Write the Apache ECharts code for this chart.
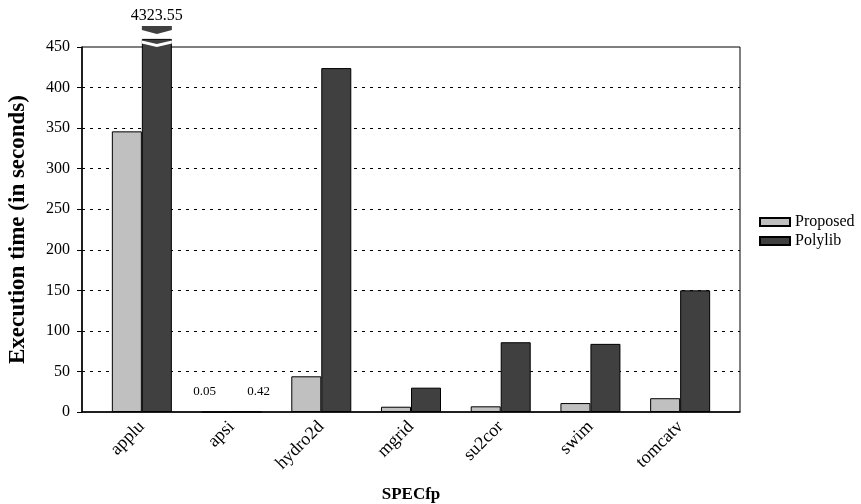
<!DOCTYPE html>
<html><head><meta charset="utf-8">
<script src="https://cdn.jsdelivr.net/npm/echarts@6/dist/echarts.min.js"></script>
<style>html,body{margin:0;padding:0;background:#fff}#c{width:861px;height:504px}</style>
</head><body><div id="c"></div>
<script>
const categories = ['applu','apsi','hydro2d','mgrid','su2cor','swim','tomcatv'];
const proposed = [346, 0.05, 44, 6.5, 7, 11, 17];
const polylib = [4323.55, 0.42, 424, 30, 86, 84, 150];
const yTicks = [0,50,100,150,200,250,300,350,400,450];
const yMax = 450;
const breakTop = 460; // visual height of a broken bar

const F = 'Liberation Serif, Times New Roman, serif';
const chart = echarts.init(document.getElementById('c'));

function mkData(arr, side) {
  return arr.map((v, i) => {
    const item = { value: v > yMax ? breakTop : v };
    if (v > yMax) {
      item.label = { show: true, position: 'top', distance: 15, formatter: String(v), fontSize: 16 };
    } else if (v < 1) {
      item.label = { show: true, position: 'top', distance: 13, formatter: String(v), fontSize: 13, offset: [side * 12, 0] };
    }
    return item;
  });
}

chart.setOption({
  animation: false,
  textStyle: { fontFamily: F, color: '#000' },
  grid: [
    { left: 82, width: 658, top: 47, height: 365, show: true, borderColor: '#000', borderWidth: 1,
      backgroundColor: 'transparent', containLabel: false, outerBoundsMode: 'none' },
    { left: 97, width: 628, top: 47, height: 365, containLabel: false, outerBoundsMode: 'none' }
  ],
  legend: {
    orient: 'vertical', left: 754, top: 209, itemWidth: 30, itemHeight: 8, itemGap: 3,
    icon: 'rect', textStyle: { fontFamily: F, fontSize: 16, color: '#000' },
    data: ['Proposed', 'Polylib']
  },
  xAxis: [
    { type: 'value', gridIndex: 0, min: 0, max: 1, show: true,
      axisLine: { show: true, lineStyle: { color: '#000', width: 1.5 } },
      axisTick: { show: false }, axisLabel: { show: false }, splitLine: { show: false } },
    { type: 'category', gridIndex: 1, data: categories,
      axisLine: { show: false }, axisTick: { show: false },
      axisLabel: { rotate: 45, fontFamily: F, fontSize: 18, color: '#000', margin: 12 },
      name: 'SPECfp', nameLocation: 'middle', nameGap: 74,
      nameTextStyle: { fontFamily: F, fontSize: 17, fontWeight: 'bold', color: '#000' } }
  ],
  yAxis: [
    { type: 'value', gridIndex: 0, min: 0, max: yMax, interval: 50,
      axisLine: { show: true, lineStyle: { color: '#000', width: 1.5 } },
      axisTick: { show: true, inside: false, length: 5, lineStyle: { color: '#000' } },
      axisLabel: { fontFamily: F, fontSize: 16, color: '#000', margin: 12,
        formatter: v => yTicks.includes(v) ? String(v) : '' },
      splitLine: { show: true, showMinLine: false, showMaxLine: false,
        lineStyle: { color: '#000', type: [3, 5], width: 1 } },
      name: 'Execution time (in seconds)', nameLocation: 'middle', nameGap: 52,
      nameTextStyle: { fontFamily: F, fontSize: 23, fontWeight: 'bold', color: '#000' } },
    { type: 'value', gridIndex: 1, min: 0, max: yMax, show: false }
  ],
  series: [
    { name: 'Proposed', type: 'bar', xAxisIndex: 1, yAxisIndex: 1, barWidth: 30, barGap: '0%',
      clip: false, data: mkData(proposed, -1),
      itemStyle: { color: '#c0c0c0', borderColor: '#000', borderWidth: 1 },
      label: { fontFamily: F, color: '#000' } },
    { name: 'Polylib', type: 'bar', xAxisIndex: 1, yAxisIndex: 1, barWidth: 30, barGap: '0%',
      clip: false, data: mkData(polylib, 1),
      itemStyle: { color: '#404040', borderColor: '#000', borderWidth: 1 },
      label: { fontFamily: F, color: '#000' } }
  ]
});

// break marks for bars above the axis max
const graphics = [];
polylib.forEach((v, i) => {
  if (v <= yMax) return;
  const c = chart.convertToPixel({ xAxisIndex: 1, yAxisIndex: 1 }, [i, breakTop]);
  const x0 = c[0], x1 = c[0] + 30, xc = (x0 + x1) / 2, yt = c[1];
  graphics.push({ type: 'polygon', z: 100,
    shape: { points: [[x0, yt + 1.5], [xc, yt + 5], [x1, yt + 1.5], [x1, yt + 4.5], [xc, yt + 8], [x0, yt + 4.5]] },
    style: { fill: '#fff' } });
  graphics.push({ type: 'polygon', z: 100,
    shape: { points: [[x0, yt - 13], [x1, yt - 13], [x1, yt - 9], [xc, yt - 5], [x0, yt - 9]] },
    style: { fill: '#404040' } });
});
chart.setOption({ graphic: graphics });
</script></body></html>
